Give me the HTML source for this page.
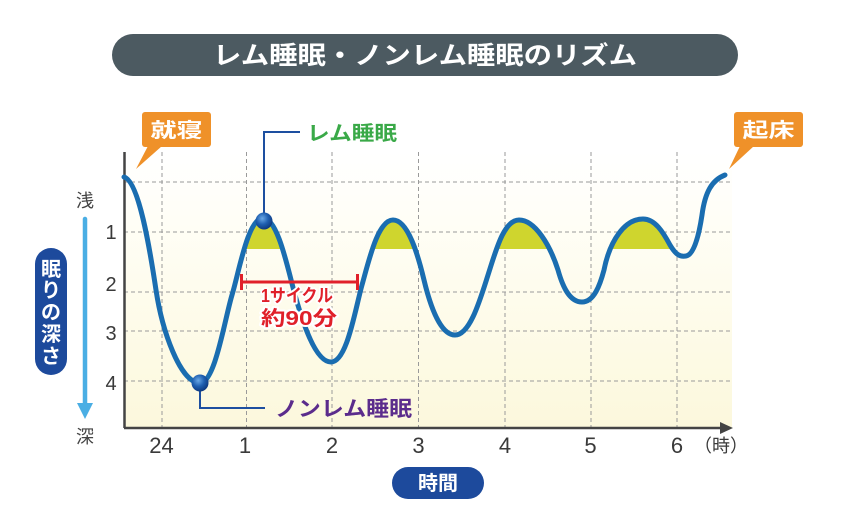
<!DOCTYPE html>
<html><head><meta charset="utf-8"><style>
html,body{margin:0;padding:0;background:#fff;}
svg{display:block;}
text{font-family:"Liberation Sans","Noto Sans CJK JP",sans-serif;}
</style></head><body>
<svg width="850" height="525" viewBox="0 0 850 525" xmlns="http://www.w3.org/2000/svg">
<defs>
<linearGradient id="bg" x1="0" y1="0" x2="0" y2="1">
<stop offset="0" stop-color="#ffffff"/>
<stop offset="0.25" stop-color="#fffef6"/>
<stop offset="1" stop-color="#fcf8dc"/>
</linearGradient>
<radialGradient id="ball" cx="0.4" cy="0.35" r="0.7">
<stop offset="0" stop-color="#6aa8e6"/>
<stop offset="0.5" stop-color="#1f5fb0"/>
<stop offset="1" stop-color="#0c3478"/>
</radialGradient>
<clipPath id="fc"><rect x="200" y="0" width="485" height="249"/></clipPath>
</defs>

<!-- title -->
<rect x="112" y="34" width="626" height="42" rx="21" fill="#4c5a61"/>
<text x="425" y="64" font-size="25" font-weight="bold" fill="#fff" text-anchor="middle" textLength="424" lengthAdjust="spacingAndGlyphs">レム睡眠・ノンレム睡眠のリズム</text>

<!-- plot background -->
<rect x="124" y="152" width="608" height="276" fill="url(#bg)"/>

<!-- grid -->
<g stroke="#9a9a9a" stroke-width="1" stroke-dasharray="4 3" fill="none">
<line x1="162" y1="152" x2="162" y2="428"/>
<line x1="246.5" y1="152" x2="246.5" y2="428"/>
<line x1="332" y1="152" x2="332" y2="428"/>
<line x1="418.5" y1="152" x2="418.5" y2="428"/>
<line x1="505" y1="152" x2="505" y2="428"/>
<line x1="591" y1="152" x2="591" y2="428"/>
<line x1="677" y1="152" x2="677" y2="428"/>
<line x1="124" y1="182" x2="732" y2="182"/>
<line x1="124" y1="232" x2="732" y2="232"/>
<line x1="124" y1="292" x2="732" y2="292"/>
<line x1="124" y1="331" x2="732" y2="331"/>
<line x1="124" y1="381" x2="732" y2="381"/>
</g>

<!-- REM fills -->
<path clip-path="url(#fc)" fill="#cfd52e" d="M124,177 C139,181 150,250 156,290 C162,330 180,383 200,383 C215,383 224.5,320 232,295 C239,272 248,218 263,218 C278,218 288,270 295,295 C302,320 315,362 331,362 C347,362 355,310 362,285 C369,260 378,220 393,220 C408,220 418,255 424,280 C430,305 440,335 455,335 C470,335 480,300 488,275 C496,250 504,220 519,220 C535,220 550,245 558,270 C563,288 570,302 582,302 C594,302 600,285 604,270 C610,240 625,219 643,219 C655,219 663,232 670,245 C676,255 680,257 686,256 C694,255 699,235 702,215 C705,192 712,180 725,175 L725,428 L124,428 Z"/>

<!-- axes -->
<g stroke="#444" stroke-width="2.5" fill="none">
<line x1="124.5" y1="152" x2="124.5" y2="428"/>
<line x1="124" y1="428" x2="724" y2="428"/>
</g>
<polygon points="720,422 733,428 720,434" fill="#444"/>

<!-- curve -->
<path fill="none" stroke="#1a6db0" stroke-width="5" stroke-linecap="round" stroke-linejoin="round" d="M124,177 C139,181 150,250 156,290 C162,330 180,383 200,383 C215,383 224.5,320 232,295 C239,272 248,218 263,218 C278,218 288,270 295,295 C302,320 315,362 331,362 C347,362 355,310 362,285 C369,260 378,220 393,220 C408,220 418,255 424,280 C430,305 440,335 455,335 C470,335 480,300 488,275 C496,250 504,220 519,220 C535,220 550,245 558,270 C563,288 570,302 582,302 C594,302 600,285 604,270 C610,240 625,219 643,219 C655,219 663,232 670,245 C676,255 680,257 686,256 C694,255 699,235 702,215 C705,192 712,180 725,175"/>

<!-- leaders -->
<polyline points="264,221 264,132 300,132" fill="none" stroke="#1d4fa0" stroke-width="2"/>
<polyline points="200,383 200,408 265,408" fill="none" stroke="#1d4fa0" stroke-width="2"/>
<circle cx="264" cy="221" r="8.5" fill="url(#ball)"/>
<circle cx="200" cy="383" r="8.5" fill="url(#ball)"/>

<text x="307" y="140" font-size="20" font-weight="bold" fill="#3aa948" textLength="90" lengthAdjust="spacingAndGlyphs">レム睡眠</text>
<text x="275" y="416" font-size="21" font-weight="bold" fill="#5b2c8c" textLength="137" lengthAdjust="spacingAndGlyphs">ノンレム睡眠</text>

<!-- cycle bracket -->
<g stroke="#e0202a" stroke-width="3" fill="none">
<line x1="241.5" y1="282" x2="357.5" y2="282"/>
<line x1="241.5" y1="274" x2="241.5" y2="290"/>
<line x1="357.5" y1="274" x2="357.5" y2="290"/>
</g>
<g font-weight="bold" fill="#e0202a" stroke="#fff" stroke-width="4" stroke-linejoin="round" style="paint-order:stroke" text-anchor="middle">
<text x="297" y="302" font-size="18" textLength="72" lengthAdjust="spacingAndGlyphs">1サイクル</text>
<text x="299" y="325" font-size="20" textLength="76" lengthAdjust="spacingAndGlyphs">約90分</text>
</g>

<!-- callouts -->
<rect x="142" y="112" width="69" height="35" rx="3" fill="#ef9129"/>
<polygon points="148,146 162,146 136,169" fill="#ef9129"/>
<text x="176.5" y="137" font-size="20" font-weight="bold" fill="#fff" text-anchor="middle" textLength="52" lengthAdjust="spacingAndGlyphs">就寝</text>
<rect x="734" y="112" width="69" height="35" rx="3" fill="#ef9129"/>
<polygon points="740,146 754,146 729,169" fill="#ef9129"/>
<text x="768.5" y="137" font-size="20" font-weight="bold" fill="#fff" text-anchor="middle" textLength="52" lengthAdjust="spacingAndGlyphs">起床</text>

<!-- y axis labels -->
<g font-size="20" fill="#3a3a3a" text-anchor="middle">
<text x="111" y="239">1</text>
<text x="111" y="291">2</text>
<text x="111" y="340">3</text>
<text x="111" y="390">4</text>
</g>
<text x="85" y="207" font-size="18" fill="#444" text-anchor="middle">浅</text>
<text x="85" y="443" font-size="18" fill="#444" text-anchor="middle">深</text>
<line x1="85" y1="219" x2="85" y2="405" stroke="#4aaee4" stroke-width="4.5" stroke-linecap="round"/>
<polygon points="77,403 93,403 85,419" fill="#4aaee4"/>

<rect x="35" y="248" width="32" height="127" rx="16" fill="#1d4a9c"/>
<g font-size="20" font-weight="bold" fill="#fff" text-anchor="middle">
<text x="51" y="276">眠</text>
<text x="51" y="297">り</text>
<text x="51" y="319">の</text>
<text x="51" y="341">深</text>
<text x="51" y="363">さ</text>
</g>

<!-- x axis labels -->
<g font-size="22" fill="#3a3a3a" text-anchor="middle">
<text x="161.5" y="453">24</text>
<text x="245" y="453">1</text>
<text x="332" y="453">2</text>
<text x="418.5" y="453">3</text>
<text x="505" y="453">4</text>
<text x="590.5" y="453">5</text>
<text x="677" y="453">6</text>
</g>
<text x="694" y="452" font-size="18" fill="#3a3a3a">（時）</text>

<rect x="392" y="467" width="92" height="32" rx="16" fill="#1d4a9c"/>
<text x="438" y="490" font-size="20" font-weight="bold" fill="#fff" text-anchor="middle">時間</text>
</svg>
</body></html>
